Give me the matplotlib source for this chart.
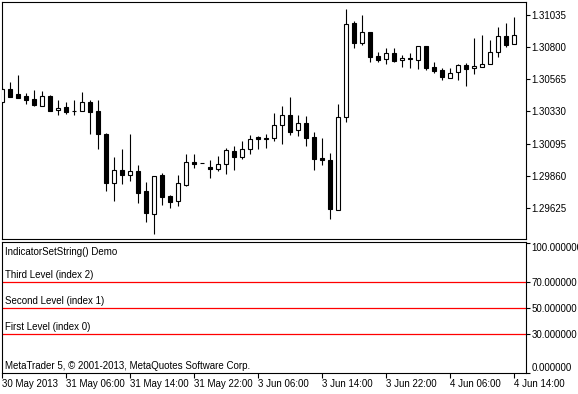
import numpy as np
import pandas as pd
import matplotlib
matplotlib.use('Agg')
import matplotlib.pyplot as plt

plt.rcParams['font.family'] = ['Liberation Sans', 'DejaVu Sans']
plt.rcParams['font.size'] = 7

# H1 bars (30 May 22:00 .. 4 Jun 14:00)
opens = [1.30401, 1.30492, 1.30455, 1.30441, 1.30419, 1.30372, 1.30441, 1.30339, 1.30361, 1.30333,
         1.30336, 1.30397, 1.30331, 1.30164, 1.29811, 1.29902, 1.29870, 1.29894, 1.29749, 1.29586,
         1.29865, 1.29712, 1.29680, 1.29797, 1.29962, 1.29953, 1.29926, 1.29909, 1.29945, 1.30042,
         1.29996, 1.30057, 1.30142, 1.30139, 1.30137, 1.30230, 1.30302, 1.30193, 1.30244, 1.30147,
         1.29989, 1.29975, 1.29615, 1.30288, 1.30975, 1.30827, 1.30907, 1.30732, 1.30710, 1.30754,
         1.30703, 1.30717, 1.30703, 1.30805, 1.30652, 1.30630, 1.30572, 1.30616, 1.30667, 1.30645,
         1.30652, 1.30674, 1.30761, 1.30878, 1.30819]
highs = [1.30508, 1.30545, 1.30596, 1.30463, 1.30487, 1.30479, 1.30448, 1.30414, 1.30397, 1.30414,
         1.30472, 1.30414, 1.30414, 1.30171, 1.29999, 1.30057, 1.30166, 1.29940, 1.29817, 1.29860,
         1.29880, 1.29720, 1.29868, 1.30020, 1.30020, 1.29953, 1.29977, 1.30006, 1.30066, 1.30079,
         1.30115, 1.30159, 1.30152, 1.30166, 1.30317, 1.30370, 1.30436, 1.30302, 1.30295, 1.30181,
         1.30139, 1.30026, 1.30382, 1.31074, 1.30989, 1.31033, 1.30907, 1.30761, 1.30790, 1.30790,
         1.30739, 1.30754, 1.30805, 1.30805, 1.30688, 1.30645, 1.30645, 1.30674, 1.30681, 1.30863,
         1.30887, 1.30849, 1.30943, 1.30972, 1.31016]
lows = [1.30392, 1.30433, 1.30426, 1.30387, 1.30372, 1.30370, 1.30334, 1.30307, 1.30314, 1.30307,
        1.30334, 1.30168, 1.30059, 1.29751, 1.29680, 1.29804, 1.29826, 1.29666, 1.29527, 1.29440,
        1.29651, 1.29629, 1.29644, 1.29790, 1.29921, 1.29953, 1.29848, 1.29899, 1.29873, 1.29906,
        1.29982, 1.30023, 1.30055, 1.30066, 1.30117, 1.30096, 1.30161, 1.30154, 1.30081, 1.29906,
        1.29943, 1.29549, 1.29615, 1.30254, 1.30795, 1.30812, 1.30693, 1.30693, 1.30678, 1.30693,
        1.30656, 1.30649, 1.30642, 1.30634, 1.30608, 1.30562, 1.30572, 1.30562, 1.30518, 1.30601,
        1.30652, 1.30674, 1.30729, 1.30802, 1.30819]
closes = [1.30492, 1.30438, 1.30431, 1.30416, 1.30380, 1.30441, 1.30336, 1.30353, 1.30329, 1.30331,
          1.30397, 1.30329, 1.30168, 1.29811, 1.29902, 1.29870, 1.29894, 1.29739, 1.29593, 1.29858,
          1.29710, 1.29673, 1.29807, 1.29960, 1.29945, 1.29953, 1.29909, 1.29945, 1.30047, 1.29996,
          1.30055, 1.30128, 1.30130, 1.30130, 1.30230, 1.30302, 1.30183, 1.30244, 1.30139, 1.29986,
          1.29979, 1.29622, 1.30288, 1.30965, 1.30831, 1.30907, 1.30729, 1.30707, 1.30754, 1.30700,
          1.30717, 1.30710, 1.30805, 1.30649, 1.30627, 1.30579, 1.30608, 1.30667, 1.30642, 1.30659,
          1.30674, 1.30761, 1.30878, 1.30817, 1.30887]

# bar times: weekend gap between Friday 23:00 and Monday 00:00
bar_times = pd.date_range('2013-05-30 22:00', periods=26, freq='h').append(
    pd.date_range('2013-06-03 00:00', periods=39, freq='h'))

price_ticks = [1.29625, 1.29860, 1.30095, 1.30330, 1.30565, 1.30800, 1.31035]
ind_ticks = [0, 30, 50, 70, 100]
level_values = [30, 50, 70]
level_names = ['First Level (index 0)', 'Second Level (index 1)', 'Third Level (index 2)']
ind_title = 'IndicatorSetString() Demo'
copyright_text = 'MetaTrader 5, \u00a9 2001-2013, MetaQuotes Software Corp.'

o = np.array(opens)
h = np.array(highs)
l = np.array(lows)
c = np.array(closes)
x = np.arange(len(o))

fig = plt.figure(figsize=(5.78, 3.94), dpi=100)
W, H = 578.0, 394.0
ax = fig.add_axes([2 / W, 1 - 239 / H, 524 / W, 237 / H])
ax2 = fig.add_axes([2 / W, 1 - 373 / H, 524 / W, 131 / H])

# candles
ax.vlines(x, l, h, color='black', lw=0.8, zorder=2)
fills = ['white' if cc > oo else 'black' for oo, cc in zip(o, c)]
ax.bar(x, np.abs(c - o), bottom=np.minimum(o, c), width=0.5, color=fills,
       edgecolor='black', linewidth=0.8, zorder=3)

ax.set_xlim(-0.04, 65.46)
ax.set_ylim(1.294014, 1.311275)
ax.set_xticks([])
ax.yaxis.tick_right()
ax.set_yticks(price_ticks)
ax.set_yticklabels(['%.5f' % p for p in price_ticks])
ax.tick_params(axis='y', direction='out', length=3, width=0.8, pad=1, labelsize=7)

# indicator window
for v in level_values:
    ax2.axhline(v, color='#ff0000', lw=0.9)
for v, name in zip(level_values, level_names):
    ax2.text(0.006, v + 1.2, name, transform=ax2.get_yaxis_transform(), va='bottom', ha='left')
ax2.text(0.006, 0.924, ind_title, transform=ax2.transAxes, va='center', ha='left')
ax2.text(0.005, 0.056, copyright_text, transform=ax2.transAxes, va='center', ha='left')

ax2.set_xlim(-0.04, 65.46)
ax2.set_ylim(0, 100.6)
ax2.yaxis.tick_right()
ax2.set_yticks(ind_ticks)
ylabels = ax2.set_yticklabels(['%.6f' % v for v in ind_ticks])
ylabels[0].set_va('bottom')
ylabels[-1].set_va('top')
ax2.tick_params(axis='y', direction='out', length=3, width=0.8, pad=1, labelsize=7)

# time axis: first bar gets the date, then every 8 hours
tick_pos = [0]
tick_lab = ['%d %s' % (bar_times[0].day, bar_times[0].strftime('%b %Y'))]
for i, t in enumerate(bar_times):
    if i > 0 and (t.hour - 6) % 8 == 0:
        tick_pos.append(i)
        tick_lab.append('%d %s' % (t.day, t.strftime('%b %H:%M')))
ax2.set_xticks(tick_pos)
ax2.set_xticklabels(tick_lab)
for lbl in ax2.get_xticklabels():
    lbl.set_ha('left')
ax2.tick_params(axis='x', direction='out', length=3.5, width=0.8, pad=0.5, labelsize=7)

for a in (ax, ax2):
    for s in a.spines.values():
        s.set_linewidth(0.8)
        s.set_color('black')

fig.savefig('out.png', dpi=100)
